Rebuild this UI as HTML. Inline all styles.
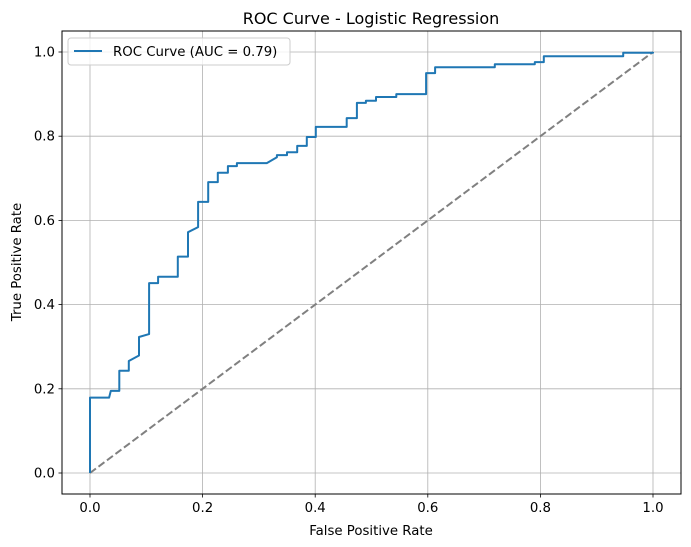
<!DOCTYPE html>
<html><head><meta charset="utf-8"><style>
body{margin:0;background:#fff;}
svg{display:block;font-family:"DejaVu Sans","Liberation Sans",sans-serif;}
</style></head><body>
<svg id="chart" width="691" height="547" viewBox="0 0 691 547" xmlns="http://www.w3.org/2000/svg">
<rect x="0" y="0" width="691" height="547" fill="#fff"/>
<text x="371" y="24" text-anchor="middle" font-size="16" fill="#000">ROC Curve - Logistic Regression</text>
<g id="grid"></g>
<g id="ticks"></g>
<g id="series"></g>
<rect x="62" y="31" width="619" height="463" fill="none" stroke="#000" stroke-width="1"/>
<text x="371" y="535" text-anchor="middle" font-size="13.3" fill="#000">False Positive Rate</text>
<text transform="translate(21,262) rotate(-90)" text-anchor="middle" font-size="13.3" fill="#000">True Positive Rate</text>
<g>
<rect x="68" y="38" width="222" height="27" rx="3" fill="#fff" fill-opacity="0.8" stroke="#ccc"/>
<line x1="74" y1="51" x2="102" y2="51" stroke="#1f77b4" stroke-width="2"/>
<text x="113" y="56" font-size="13.3" fill="#000">ROC Curve (AUC = 0.79)</text>
</g>
</svg>
<script>
const fprValues=[0,0,0.034,0.037,0.052,0.052,0.069,0.069,0.087,0.087,0.105,0.105,0.121,0.121,0.156,0.156,0.174,0.174,0.192,0.192,0.210,0.210,0.227,0.227,0.245,0.245,0.261,0.261,0.314,0.332,0.332,0.350,0.350,0.368,0.368,0.385,0.385,0.401,0.401,0.456,0.456,0.474,0.474,0.490,0.490,0.508,0.508,0.544,0.544,0.597,0.597,0.613,0.613,0.719,0.719,0.790,0.790,0.806,0.806,0.947,0.947,1,1];
const tprValues=[0,0.179,0.179,0.195,0.195,0.243,0.243,0.266,0.279,0.323,0.330,0.451,0.451,0.466,0.466,0.514,0.514,0.572,0.584,0.644,0.644,0.691,0.691,0.713,0.713,0.729,0.729,0.736,0.736,0.750,0.755,0.755,0.762,0.762,0.777,0.777,0.798,0.798,0.822,0.822,0.843,0.843,0.879,0.879,0.884,0.884,0.893,0.893,0.900,0.900,0.950,0.950,0.964,0.964,0.971,0.971,0.976,0.976,0.990,0.990,0.998,0.998,1];
const xTicks=[0,0.2,0.4,0.6,0.8,1.0];
const yTicks=[0,0.2,0.4,0.6,0.8,1.0];
const xTickLabels=["0.0","0.2","0.4","0.6","0.8","1.0"];
const yTickLabels=["0.0","0.2","0.4","0.6","0.8","1.0"];
const chanceLine=[0,1];

const NS="http://www.w3.org/2000/svg";
function sx(v){return 90+v*563;}
function sy(v){return 473-v*421;}
function mk(tag,attrs,parent){const e=document.createElementNS(NS,tag);for(const k in attrs)e.setAttribute(k,attrs[k]);parent.appendChild(e);return e;}
const grid=document.getElementById('grid'),ticks=document.getElementById('ticks'),series=document.getElementById('series');
xTicks.forEach((t,i)=>{
  const g=mk('line',{x1:sx(t),x2:sx(t),y1:31,y2:494,stroke:'#b0b0b0','stroke-width':0.8},grid);
  
  
  mk('line',{x1:sx(t),x2:sx(t),y1:494,y2:497.5,stroke:'#000','stroke-width':0.8},ticks);
  const l=mk('text',{x:sx(t),y:512,'text-anchor':'middle','font-size':13.3,fill:'#000'},ticks);
  l.textContent=xTickLabels[i];
  
  
});
yTicks.forEach((t,i)=>{
  const g=mk('line',{x1:62,x2:681,y1:sy(t),y2:sy(t),stroke:'#b0b0b0','stroke-width':0.8},grid);
  
  
  mk('line',{x1:58.5,x2:62,y1:sy(t),y2:sy(t),stroke:'#000','stroke-width':0.8},ticks);
  const l=mk('text',{x:55,y:sy(t)+4.5,'text-anchor':'end','font-size':13.3,fill:'#000'},ticks);
  l.textContent=yTickLabels[i];
  
  
});
const diag=mk('line',{x1:sx(chanceLine[0]),y1:sy(chanceLine[0]),x2:sx(chanceLine[1]),y2:sy(chanceLine[1]),stroke:'#808080','stroke-width':2,'stroke-dasharray':'7.4,3.2'},series);


const pts=fprValues.map((f,i)=>sx(f).toFixed(1)+','+sy(tprValues[i]).toFixed(1)).join(' ');
const roc=mk('polyline',{points:pts,fill:'none',stroke:'#1f77b4','stroke-width':2,'stroke-linejoin':'round'},series);


</script>
</body></html>
